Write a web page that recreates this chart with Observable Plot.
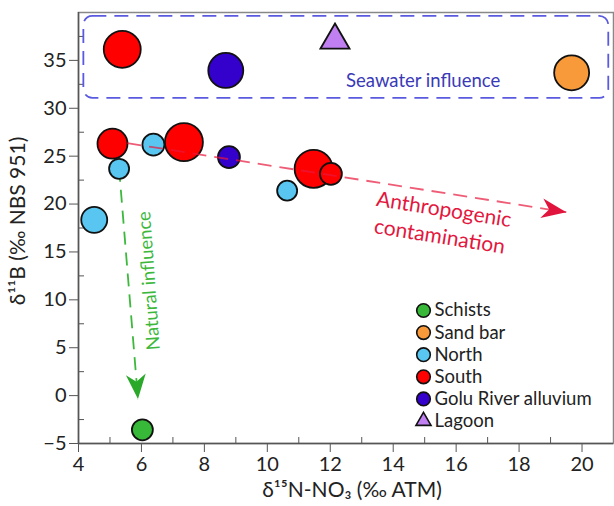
<!DOCTYPE html>
<html><head><meta charset="utf-8">
<script src="https://cdn.jsdelivr.net/npm/d3@7"></script>
<script src="https://cdn.jsdelivr.net/npm/@observablehq/plot@0.6"></script>
<style>html,body{margin:0;padding:0;background:#fff}</style>
</head><body><div id="chart"></div>
<script>
// ---- data ----
const groups = ["South","Golu River alluvium","Lagoon","Sand bar","South","North","North","South","Golu River alluvium","North","South","South","North","Schists"];
const d15N   = [5.39, 8.68, 12.15, 19.67, 5.08, 5.29, 6.38, 7.35, 8.78, 10.63, 12.02, 11.47, 4.50, 6.03];
const d11B   = [36.15, 33.95, 37.1, 33.7, 26.3, 23.68, 26.2, 26.46, 24.9, 21.4, 23.16, 23.68, 18.35, -3.57];
const magnitude = [342, 306, 117, 306, 225, 100, 121, 361, 121, 100, 121, 361, 169, 110];

const legendOrder = ["Schists", "Sand bar", "North", "South", "Golu River alluvium", "Lagoon"];
const groupColors = ["#38b838", "#f99a3a", "#58c6f0", "#ff0000", "#3300cc", "#c080f2"];

const xTicks = [4, 6, 8, 10, 12, 14, 16, 18, 20];
const xMinor = [5, 7, 9, 11, 13, 15, 17, 19];
const yTicks = [-5, 0, 5, 10, 15, 20, 25, 30, 35];
const yMinor = [-2.5, 2.5, 7.5, 12.5, 17.5, 22.5, 27.5, 32.5, 37.5];
const xDomain = [4, 21];
const yDomain = [-5, 40];

const xLabel = "δ¹⁵N-NO₃ (‰ ATM)";
const yLabel = "δ¹¹B (‰ NBS 951)";

// annotations
const seawaterBox = [{x1: 4.17, x2: 20.85, y1: 31.03, y2: 39.6}];
const seawaterText = [{x: 14.95, y: 32.8, text: "Seawater influence"}];
const anthroArrow = [{x1: 5.55, y1: 26.36, x2: 19.5, y2: 19.15}];
const anthroText = [{x: 15.55, y: 18.2, text: "Anthropogenic\ncontamination"}];
const naturalArrow = [{x1: 5.29, y1: 23.68, x2: 5.89, y2: -0.36}];
const naturalText = [{x: 6.24, y: 12.0, text: "Natural influence"}];

// ---- build table ----
const points = groups.map((g, i) => ({group: g, x: d15N[i], y: d11B[i], m: magnitude[i]}));

const stealth = {
  draw(ctx, size) {
    const s = Math.sqrt(size);
    const L = s, W = s * 0.8;
    ctx.moveTo(0, 0);
    ctx.lineTo(-L, -W / 2);
    ctx.lineTo(-L * 0.7, 0);
    ctx.lineTo(-L, W / 2);
    ctx.closePath();
  }
};

const font = "Lato, 'Open Sans', sans-serif";
const colorOf = g => groupColors[legendOrder.indexOf(g)];

const legendMarks = legendOrder.flatMap((g, i) => [
  Plot.dot([g], {frameAnchor: "top-left", dx: 345, dy: 298 + i * 22.1, r: g === "Lagoon" ? 5.6 : 6.8,
    symbol: g === "Lagoon" ? "triangle" : "circle",
    fill: colorOf(g), stroke: "#111", strokeWidth: 1.6}),
  Plot.text([g], {frameAnchor: "top-left", dx: 356, dy: 298 + i * 22.1, text: d => d,
    textAnchor: "start", lineAnchor: "middle", fontSize: 18.5, fill: "#222"})
]);

const chart = Plot.plot({
  width: 614, height: 506,
  marginLeft: 78, marginRight: 1, marginTop: 12, marginBottom: 63,
  style: {fontFamily: font, background: "#fff"},
  x: {domain: xDomain},
  y: {domain: yDomain},
  r: {type: "sqrt", domain: [0, 400], range: [0, 20]},
  marks: [
    Plot.frame({stroke: "#888", strokeWidth: 1.5}),
    Plot.ruleX([xDomain[0]], {stroke: "#555", strokeWidth: 1.5}),
    Plot.ruleY([yDomain[0]], {stroke: "#555", strokeWidth: 1.5}),
    Plot.axisX({ticks: xTicks, tickSize: 9, tickPadding: 4, fontSize: 20, fill: "#222", stroke: "#555", label: null}),
    Plot.axisX({ticks: xMinor, tickSize: 6, dy: -6, text: null, stroke: "#555", label: null}),
    Plot.axisY({ticks: yTicks, tickSize: 9, tickPadding: 3, fontSize: 20, fill: "#222", stroke: "#555", label: null}),
    Plot.axisY({ticks: yMinor, tickSize: 6, dx: 6, text: null, stroke: "#555", label: null}),
    Plot.text([xLabel], {frameAnchor: "bottom", dx: 6, dy: 53, text: d => d, fontSize: 21, fill: "#222"}),
    Plot.text([yLabel], {frameAnchor: "left", textAnchor: "middle", dx: -60, dy: -7, rotate: -90, text: d => d, fontSize: 21, fill: "#222"}),
    // seawater box
    Plot.rect(seawaterBox, {x1: "x1", x2: "x2", y1: "y1", y2: "y2", rx: 9, fill: "none",
      stroke: "#5a5ae0", strokeWidth: 1.8, strokeDasharray: "14 8"}),
    Plot.text(seawaterText, {x: "x", y: "y", text: "text", fontSize: 18.5, fill: "#3a3ab8"}),
    // natural influence arrow (under points)
    Plot.link(naturalArrow, {x1: "x1", y1: "y1", x2: "x2", y2: "y2", stroke: "#3cb83c", strokeWidth: 1.8, strokeDasharray: "13 8"}),
    Plot.dot(naturalArrow, {x: "x2", y: "y2", symbol: stealth, r: 14, rotate: 85, fill: "#2aa82a", stroke: "none"}),
    Plot.text(naturalText, {x: "x", y: "y", text: "text", rotate: -94, fontSize: 18.5, fill: "#3cb83c"}),
    // points
    Plot.dot(points, {x: "x", y: "y", r: "m", symbol: d => d.group === "Lagoon" ? "triangle" : "circle",
      fill: d => colorOf(d.group), stroke: "#111", strokeWidth: 1.8}),
    // anthropogenic arrow (over points)
    Plot.link(anthroArrow, {x1: "x1", y1: "y1", x2: "x2", y2: "y2", stroke: "#e8173c", strokeOpacity: 0.7, strokeWidth: 1.8, strokeDasharray: "14 8"}),
    Plot.dot(anthroArrow, {x: "x2", y: "y2", symbol: stealth, r: 14, rotate: 9, fill: "#e0143c", stroke: "none"}),
    Plot.text(anthroText, {x: "x", y: "y", text: "text", rotate: 9, fontSize: 21, lineHeight: 1.3, fill: "#e3173e"}),
    ...legendMarks
  ]
});
document.getElementById("chart").appendChild(chart);
</script>
</body></html>
